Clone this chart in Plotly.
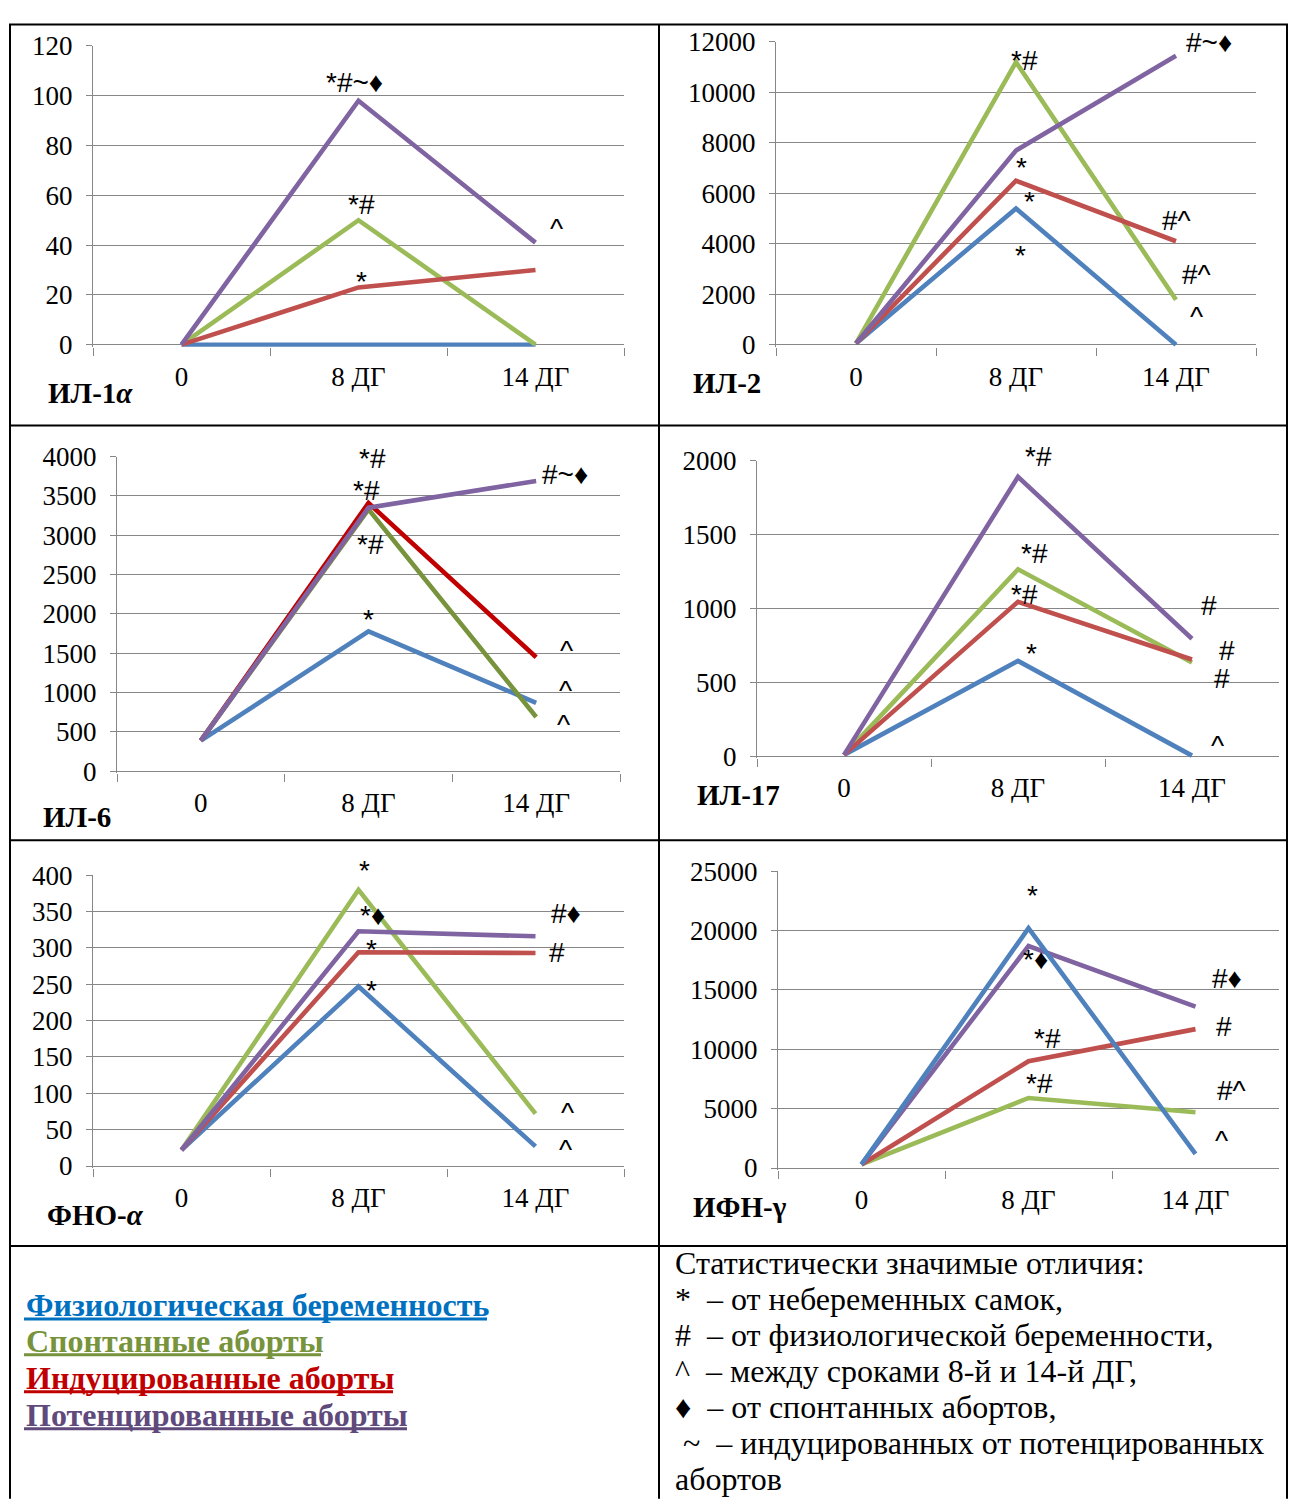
import plotly.graph_objects as go

OFF_X = 8                # page body margin (horizontal)
Y0_R, Y_SCALE = 22.05, 0.98219   # observed vertical placement of the figure in the photo
FW = 1296 - 2 * OFF_X
FH = 1504

categories = ["0", "8 ДГ", "14 ДГ"]
group_keys = ["phys", "spont", "induced", "potent"]
group_names = ["Физиологическая беременность", "Спонтанные аборты",
               "Индуцированные аборты", "Потенцированные аборты"]

# ИЛ-1α
il1a_phys = [0, 0, 0]
il1a_spont = [0, 50, 0]
il1a_induced = [0, 23, 30]
il1a_potent = [0, 98, 41]
# ИЛ-2
il2_phys = [50, 5400, 0]
il2_spont = [50, 11200, 1780]
il2_induced = [50, 6500, 4100]
il2_potent = [50, 7700, 11450]
# ИЛ-6
il6_phys = [390, 1780, 870]
il6_spont = [390, 3330, 690]
il6_induced = [390, 3410, 1450]
il6_potent = [390, 3350, 3690]
# ИЛ-17
il17_phys = [10, 645, 5]
il17_spont = [10, 1265, 635]
il17_induced = [10, 1045, 655]
il17_potent = [10, 1890, 795]
# ФНО-α
tnf_phys = [22, 247, 27]
tnf_spont = [22, 380, 72]
tnf_induced = [22, 294, 293]
tnf_potent = [22, 323, 316]
# ИФН-γ
ifn_phys = [300, 20200, 1200]
ifn_spont = [300, 5900, 4700]
ifn_induced = [300, 9000, 11700]
ifn_potent = [300, 18700, 13600]

panel_titles = ["ИЛ-1<i>α</i>", "ИЛ-2", "ИЛ-6", "ИЛ-17", "ФНО-<i>α</i>", "ИФН-γ"]
y_max = [120, 12000, 4000, 2000, 400, 25000]
y_step = [20, 2000, 500, 500, 50, 5000]

panel_data = [
    dict(phys=il1a_phys, spont=il1a_spont, induced=il1a_induced, potent=il1a_potent),
    dict(phys=il2_phys, spont=il2_spont, induced=il2_induced, potent=il2_potent),
    dict(phys=il6_phys, spont=il6_spont, induced=il6_induced, potent=il6_potent),
    dict(phys=il17_phys, spont=il17_spont, induced=il17_induced, potent=il17_potent),
    dict(phys=tnf_phys, spont=tnf_spont, induced=tnf_induced, potent=tnf_potent),
    dict(phys=ifn_phys, spont=ifn_spont, induced=ifn_induced, potent=ifn_potent),
]

# significance marks: (series, category index, text)
sig_marks = [
    [("potent", 1, "*#~♦"), ("spont", 1, "*#"), ("induced", 1, "*"), ("potent", 2, "^")],
    [("spont", 1, "*#"), ("potent", 1, "*"), ("induced", 1, "*"), ("phys", 1, "*"),
     ("potent", 2, "#~♦"), ("induced", 2, "#^"), ("spont", 2, "#^"), ("spont", 2, "^")],
    [("induced", 1, "*#"), ("induced", 1, "*#"), ("spont", 1, "*#"), ("phys", 1, "*"),
     ("potent", 2, "#~♦"), ("induced", 2, "^"), ("phys", 2, "^"), ("spont", 2, "^")],
    [("potent", 1, "*#"), ("spont", 1, "*#"), ("induced", 1, "*#"), ("phys", 1, "*"),
     ("potent", 2, "#"), ("induced", 2, "#"), ("spont", 2, "#"), ("phys", 2, "^")],
    [("spont", 1, "*"), ("potent", 1, "*♦"), ("induced", 1, "*"), ("phys", 1, "*"),
     ("potent", 2, "#♦"), ("induced", 2, "#"), ("spont", 2, "^"), ("phys", 2, "^")],
    [("phys", 1, "*"), ("potent", 1, "*♦"), ("induced", 1, "*#"), ("spont", 1, "*#"),
     ("potent", 2, "#♦"), ("induced", 2, "#"), ("spont", 2, "#^"), ("phys", 2, "^")],
]

# ---- layout / styling (target pixel geometry) ----
boxes = [  # x_left, x_right, y_top, y_zero
    (93, 624, 45, 344),
    (776, 1256, 41, 344),
    (117, 620, 456, 771),
    (757, 1279, 460, 756),
    (93, 624, 875, 1166),
    (778, 1279, 871, 1168),
]
mark_shifts = [
    [(-4, 20), (3, 18), (3, 13), (21, 21)],
    [(8, 4), (5, -10), (13, -14), (4, -40), (33, 15), (0, 23), (20, 27), (20, -10)],
    [(4, 47), (-2, 15), (2, -33), (0, 19), (29, 8), (30, 14), (29, 19), (27, 0)],
    [(20, 22), (16, 18), (6, 9), (13, 14), (17, 35), (35, 11), (30, -14), (25, 17)],
    [(6, 26), (14, 18), (13, 10), (13, 3), (30, 25), (21, 3), (32, 8), (30, 4)],
    [(4, 40), (7, -11), (19, 25), (11, 16), (31, 30), (28, 5), (36, 24), (26, 20)],
]
title_pos = [(46, 392), (691, 382), (41, 817), (695, 795), (45, 1215), (691, 1207)]

base_colors = dict(phys="#4F81BD", spont="#9BBB59", induced="#C0504D", potent="#8064A2")
panel_colors = [dict(base_colors) for _ in range(6)]
panel_colors[2].update(spont="#77933C", induced="#C00000")
draw_order = [["phys", "spont", "induced", "potent"]] * 6
draw_order[2] = ["phys", "induced", "spont", "potent"]
draw_order[5] = ["spont", "induced", "potent", "phys"]

GRID = "#878787"
SERIF = "Liberation Serif"
SANS = "Liberation Sans"
PAD = 2  # px below zero so zero lines are not clipped


def px(x):
    return (x - OFF_X) / FW


def fy(y):
    return (y - Y0_R) / Y_SCALE


def py(y):
    return 1 - fy(y) / FH


fig = go.Figure()
annotations = []
layout_axes = {}

for i in range(6):
    n = "" if i == 0 else str(i + 1)
    xl, xr, yt, y0 = boxes[i]
    ymax = y_max[i]
    pxper = (fy(y0) - fy(yt)) / ymax
    ymin = -PAD / pxper
    for key in draw_order[i]:
        fig.add_trace(go.Scatter(
            x=categories, y=panel_data[i][key], mode="lines",
            name=group_names[group_keys.index(key)],
            line=dict(color=panel_colors[i][key], width=4.6),
            xaxis="x" + n, yaxis="y" + n, showlegend=False, hoverinfo="skip"))
    layout_axes["xaxis" + n] = dict(
        domain=[px(xl), px(xr)], anchor="y" + n, type="category",
        categoryorder="array", categoryarray=categories, range=[-0.5, 2.5],
        showgrid=False, zeroline=False, showline=False,
        ticks="outside", tickson="boundaries", ticklen=8, tickcolor=GRID, tickwidth=1.3,
        tickfont=dict(family=SERIF, size=27, color="black"), ticklabelstandoff=11,
        fixedrange=True)
    layout_axes["yaxis" + n] = dict(
        domain=[1 - (fy(y0) + PAD) / FH, py(yt)], anchor="x" + n,
        range=[ymin, ymax], tickmode="linear", tick0=0, dtick=y_step[i], tickformat="d",
        showgrid=True, gridcolor=GRID, gridwidth=1.3,
        zeroline=True, zerolinecolor=GRID, zerolinewidth=1.3,
        showline=True, linecolor=GRID, linewidth=1.3,
        ticks="outside", ticklen=6, tickcolor=GRID, tickwidth=1.3,
        tickfont=dict(family=SERIF, size=27, color="black"), ticklabelstandoff=8,
        fixedrange=True)
    # significance marks
    for (key, ci, txt), (dx, dy) in zip(sig_marks[i], mark_shifts[i]):
        comp = -7 if txt in ("*", "^") else -2
        annotations.append(dict(
            x=categories[ci], y=panel_data[i][key][ci], xref="x" + n, yref="y" + n,
            text=txt, showarrow=False, xshift=dx, yshift=dy + comp,
            font=dict(family=SANS, size=28, color="black")))
    # panel title
    tx, ty = title_pos[i]
    annotations.append(dict(
        x=px(tx), y=py(ty), xref="paper", yref="paper", xanchor="left", yanchor="middle",
        text="<b>" + panel_titles[i] + "</b>", showarrow=False,
        font=dict(family=SERIF, size=29, color="black")))

# legend (left bottom cell)
legend_colors = ["#0070C0", "#77933C", "#C00000", "#604A7B"]
legend_y = [1305, 1341, 1378, 1415]
legend_ul_end = [487, 321, 393, 407]
shapes = []
for name, col, ly, ue in zip(group_names, legend_colors, legend_y, legend_ul_end):
    annotations.append(dict(
        x=px(24), y=py(ly), xref="paper", yref="paper", xanchor="left", yanchor="middle",
        text="<b>" + name + "</b>", showarrow=False,
        font=dict(family=SERIF, size=32, color=col)))
    shapes.append(dict(type="line", xref="paper", yref="paper",
                       x0=px(24), x1=px(ue), y0=py(ly + 14), y1=py(ly + 14),
                       line=dict(color=col, width=3)))

# notes (right bottom cell)
NB = "\u00a0"
notes = [
    "Статистически значимые отличия:",
    "*" + NB + NB + "– от небеременных самок,",
    "#" + NB + NB + "– от физиологической беременности,",
    "^" + NB + NB + "– между сроками 8-й и 14-й ДГ,",
    "♦" + NB + NB + "– от спонтанных абортов,",
    NB + "~" + NB + NB + "– индуцированных от потенцированных",
    "абортов",
]
notes_y = [1263, 1299, 1335, 1371, 1407, 1443, 1479]
for t, ny in zip(notes, notes_y):
    annotations.append(dict(
        x=px(673), y=py(ny), xref="paper", yref="paper", xanchor="left", yanchor="middle",
        text=t, showarrow=False, font=dict(family=SERIF, size=32, color="black")))


# table borders
TOP = Y0_R + 1.5


def hline(y, x0=9, x1=1296):
    return dict(type="line", xref="paper", yref="paper", x0=px(x0), x1=px(x1),
                y0=py(y), y1=py(y), line=dict(color="black", width=2))


def vline(x, y0=TOP, y1=1499):
    return dict(type="line", xref="paper", yref="paper", x0=px(x), x1=px(x),
                y0=py(y0), y1=py(y1), line=dict(color="black", width=2))


shapes += [hline(TOP), hline(425), hline(840), hline(1246),
           vline(10), vline(659), vline(1296 - OFF_X - 1)]

fig.update_layout(
    width=FW, height=FH, margin=dict(l=0, r=0, t=0, b=0),
    paper_bgcolor="white", plot_bgcolor="white", showlegend=False,
    annotations=annotations, shapes=shapes, **layout_axes)

fig.write_html("out.html")
